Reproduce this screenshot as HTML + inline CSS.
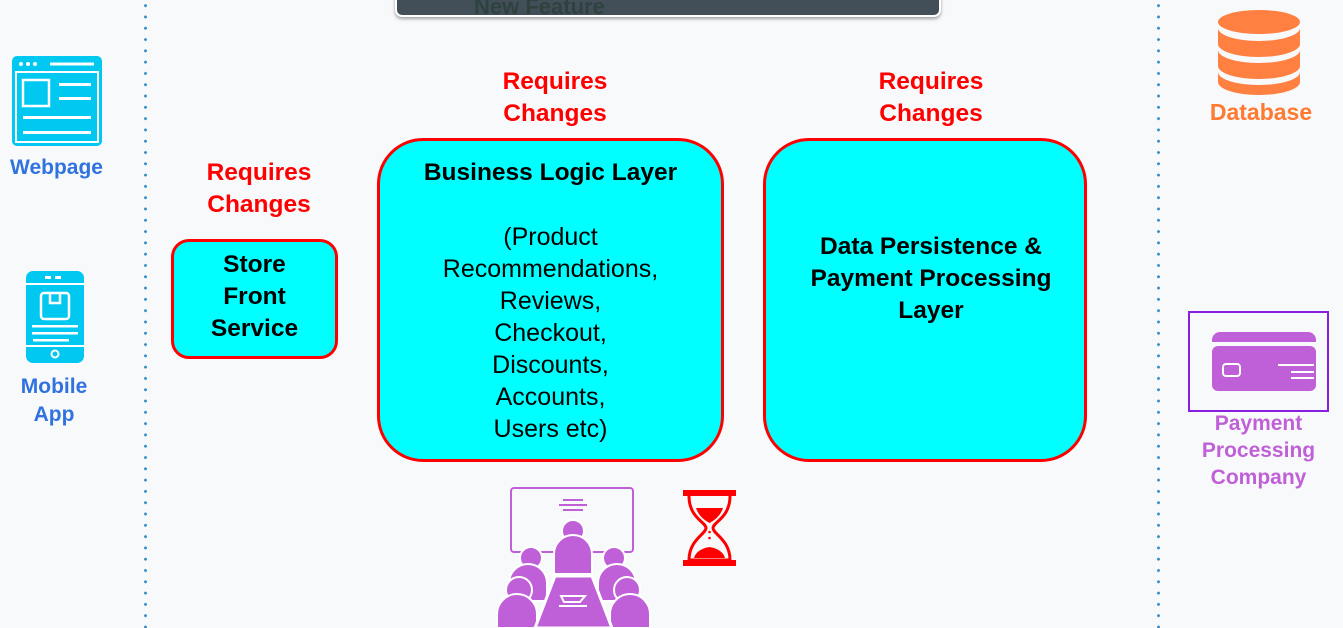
<!DOCTYPE html>
<html><head><meta charset="utf-8"><style>
body{margin:0;width:1343px;height:628px;overflow:hidden;background:#f8f9fa;position:relative;font-family:"Liberation Sans",Arial,sans-serif}
.a{position:absolute}
.t{position:absolute;text-align:center;line-height:32px;font-size:25px}
.b{font-weight:bold;font-size:24.5px}
.red{color:#ff0000;font-weight:bold;font-size:24.5px}
.box{position:absolute;background:#00ffff;border:3px solid #ff0000;box-sizing:border-box}
.dots{position:absolute;top:0;width:3px;height:628px;background:radial-gradient(circle,#3a8fc8 1.4px,transparent 1.6px) 0 0/3px 11.3px repeat-y}
</style></head><body>
<div class="dots" style="left:144px"></div>
<div class="dots" style="left:1157px"></div>
<div class="a" style="left:395px;top:-10px;width:546px;height:27px;background:#434f58;border:2px solid #fff;border-radius:0 0 7px 7px;box-sizing:border-box;box-shadow:0 2px 3px rgba(0,0,0,.35);overflow:hidden">
<div class="a" style="left:77px;top:4px;font-size:22px;font-weight:bold;color:#2e4340;line-height:22px">New Feature</div></div>

<svg class="a" style="left:11px;top:55px" width="92" height="92" viewBox="0 0 92 92">
<rect x="1" y="1" width="90" height="90" rx="5" fill="#00c8f0"/>
<circle cx="10" cy="9" r="2" fill="#fff"/><circle cx="17" cy="9" r="2" fill="#fff"/><circle cx="24" cy="9" r="2" fill="#fff"/>
<rect x="39" y="7.5" width="44" height="3" fill="#fff"/>
<rect x="5" y="17" width="82" height="70" fill="none" stroke="#fff" stroke-width="2"/>
<rect x="12" y="25" width="26" height="26" fill="none" stroke="#fff" stroke-width="2.5"/>
<rect x="48" y="28" width="32" height="3" fill="#fff"/><rect x="48" y="42" width="32" height="3" fill="#fff"/>
<rect x="12" y="61" width="68" height="3" fill="#fff"/><rect x="12" y="76" width="68" height="3" fill="#fff"/>
</svg>
<div class="t" style="left:0;top:154px;width:113px;font-size:21px;font-weight:bold;color:#2f72e0;line-height:28px">Webpage</div>
<svg class="a" style="left:25px;top:270px" width="60" height="94" viewBox="0 0 60 94">
<rect x="1" y="1" width="58" height="92" rx="7" fill="#00c8f0"/>
<rect x="20" y="6" width="6" height="3" fill="#fff"/><rect x="30" y="6" width="6" height="3" fill="#fff"/>
<rect x="1" y="13" width="58" height="2" fill="#fff"/><rect x="1" y="75" width="58" height="2" fill="#fff"/>
<rect x="16" y="23" width="28" height="26" rx="3" fill="none" stroke="#fff" stroke-width="2.5"/>
<path d="M25 24v9h10v-9" fill="none" stroke="#fff" stroke-width="2.5"/>
<rect x="7" y="55" width="46" height="2.5" fill="#fff"/><rect x="7" y="62" width="46" height="2.5" fill="#fff"/><rect x="8" y="69" width="36" height="2.5" fill="#fff"/>
<circle cx="30" cy="84" r="3.5" fill="none" stroke="#fff" stroke-width="2"/>
</svg>
<div class="t" style="left:0;top:373px;width:108px;font-size:21px;font-weight:bold;color:#2f72e0;line-height:28px">Mobile<br>App</div>

<div class="t red" style="left:172px;top:157px;width:174px">Requires<br>Changes</div>
<div class="t red" style="left:468px;top:66px;width:174px">Requires<br>Changes</div>
<div class="t red" style="left:844px;top:66px;width:174px">Requires<br>Changes</div>

<div class="box" style="left:171px;top:239px;width:167px;height:120px;border-radius:18px"></div>
<div class="t b" style="left:171px;top:249px;width:167px">Store<br>Front<br>Service</div>

<div class="box" style="left:377px;top:138px;width:347px;height:324px;border-radius:46px"></div>
<div class="t b" style="left:377px;top:157px;width:347px">Business Logic Layer</div>
<div class="t" style="left:367px;top:221px;width:367px">(Product<br>Recommendations,<br>Reviews,<br>Checkout,<br>Discounts,<br>Accounts,<br>Users etc)</div>

<div class="box" style="left:763px;top:138px;width:324px;height:324px;border-radius:46px"></div>
<div class="t b" style="left:753px;top:231px;width:356px">Data Persistence &amp;<br>Payment Processing<br>Layer</div>

<svg class="a" style="left:1216px;top:8px" width="86" height="88" viewBox="0 0 86 88">
<g fill="#ff8040">
<ellipse cx="43" cy="14" rx="41" ry="12"/>
<path d="M2 20c0 7 18 13 41 13s41-6 41-13v16c0 7-18 13-41 13S2 43 2 36z"/>
<path d="M2 42c0 7 18 13 41 13s41-6 41-13v16c0 7-18 13-41 13S2 65 2 58z"/>
<path d="M2 64c0 7 18 13 41 13s41-6 41-13v10c0 7-18 13-41 13S2 81 2 74z"/>
</g></svg>
<div class="t" style="left:1196px;top:98px;width:130px;font-size:23px;font-weight:bold;color:#ff7a30;line-height:28px">Database</div>

<div class="a" style="left:1188px;top:311px;width:141px;height:101px;border:2.5px solid #8a1ee0;box-sizing:border-box"></div>
<svg class="a" style="left:1212px;top:332px" width="104" height="59" viewBox="0 0 104 59">
<path d="M0 8a8 8 0 0 1 8-8h88a8 8 0 0 1 8 8v2H0z" fill="#c060d8"/>
<rect x="0" y="14" width="104" height="45" rx="6" fill="#c060d8"/>
<rect x="11" y="32" width="17" height="12" rx="3" fill="none" stroke="#fff" stroke-width="2"/>
<rect x="66" y="32" width="36" height="2" fill="#fff"/><rect x="79" y="39" width="23" height="2" fill="#fff"/><rect x="79" y="45" width="23" height="2" fill="#fff"/>
</svg>
<div class="t" style="left:1188px;top:410px;width:141px;font-size:21px;font-weight:bold;color:#c060d8;line-height:27px">Payment<br>Processing<br>Company</div>

<svg class="a" style="left:497px;top:486px" width="155" height="142" viewBox="0 0 155 142">
<g fill="#c060d8">
<rect x="14" y="2" width="122" height="64" rx="3" fill="none" stroke="#c060d8" stroke-width="2"/>
<rect x="66" y="13" width="20" height="2"/><rect x="62" y="18" width="28" height="2"/><rect x="66" y="23" width="20" height="2"/>
<circle cx="76" cy="45" r="11" stroke="#fff" stroke-width="2"/>
<path d="M57 88v-20a19 19 0 0 1 38 0v20z" stroke="#fff" stroke-width="2"/>
<circle cx="34" cy="72" r="11" stroke="#fff" stroke-width="2"/><circle cx="117" cy="72" r="11" stroke="#fff" stroke-width="2"/>
<path d="M12 115v-18a19 19 0 0 1 38 0v18z" stroke="#fff" stroke-width="2"/>
<path d="M101 115v-18a19 19 0 0 1 38 0v18z" stroke="#fff" stroke-width="2"/>
<circle cx="22" cy="104" r="13" stroke="#fff" stroke-width="2"/><circle cx="130" cy="104" r="13" stroke="#fff" stroke-width="2"/>
<path d="M0 142v-14a20 20 0 0 1 40 0v14zM113 142v-14a20 20 0 0 1 40 0v14z" stroke="#fff" stroke-width="2"/>
<path d="M38 142l20-52h37l20 52z" stroke="#fff" stroke-width="3"/>
<path d="M64 110h24l-5 6h-16zM62 120h28" fill="none" stroke="#fff" stroke-width="2"/>
</g></svg>
<svg class="a" style="left:683px;top:490px" width="53" height="76" viewBox="0 0 53 76">
<g fill="#ff0000"><rect x="0" y="0" width="53" height="6"/><rect x="0" y="70" width="53" height="6"/></g>
<path d="M6 6c0 22 17 26 17 32S6 50 6 70h41c0-20-17-26-17-32s17-10 17-32" fill="none" stroke="#ff0000" stroke-width="3"/>
<path d="M13 18h27c-3 9-10 13-13.5 15C23 31 16 27 13 18z" fill="#ff0000"/>
<path d="M11 68c2-7 9-10 15.5-11 6.5 1 13.5 4 15.5 11z" fill="#ff0000"/>
<circle cx="26.5" cy="42" r="1.3" fill="#ff0000"/><circle cx="26.5" cy="48" r="1.3" fill="#ff0000"/>
</svg>
</body></html>
